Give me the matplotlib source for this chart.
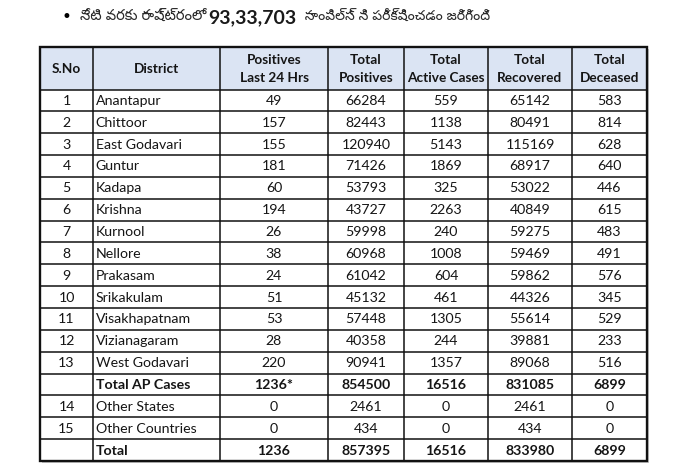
import matplotlib
matplotlib.use("Agg")
import matplotlib.pyplot as plt
from matplotlib.patches import Rectangle
from matplotlib import font_manager

# ---- data ----
headers = ["S.No", "District", "Positives\nLast 24 Hrs", "Total\nPositives",
           "Total\nActive Cases", "Total\nRecovered", "Total\nDeceased"]
sno = ["1", "2", "3", "4", "5", "6", "7", "8", "9", "10", "11", "12", "13", "", "14", "15", ""]
districts = ["Anantapur", "Chittoor", "East Godavari", "Guntur", "Kadapa", "Krishna",
             "Kurnool", "Nellore", "Prakasam", "Srikakulam", "Visakhapatnam",
             "Vizianagaram", "West Godavari", "Total AP Cases", "Other States",
             "Other Countries", "Total"]
pos24 = ["49", "157", "155", "181", "60", "194", "26", "38", "24", "51", "53", "28",
         "220", "1236*", "0", "0", "1236"]
total_pos = [66284, 82443, 120940, 71426, 53793, 43727, 59998, 60968, 61042, 45132,
             57448, 40358, 90941, 854500, 2461, 434, 857395]
active = [559, 1138, 5143, 1869, 325, 2263, 240, 1008, 604, 461, 1305, 244, 1357,
          16516, 0, 0, 16516]
recovered = [65142, 80491, 115169, 68917, 53022, 40849, 59275, 59469, 59862, 44326,
             55614, 39881, 89068, 831085, 2461, 434, 833980]
deceased = [583, 814, 628, 640, 446, 615, 483, 491, 576, 345, 529, 233, 516, 6899,
            0, 0, 6899]
bold_rows = ["Total AP Cases", "Total"]
title_pre = "నేటి వరకు రాష్ట్రంలో "
title_num = "93,33,703"
title_post = "  సాంపిల్స్ ని పరీక్షించడం జరిగింది"

# ---- fonts ----
avail = {f.name for f in font_manager.fontManager.ttflist}
telugu_fams = [f for f in ["Noto Sans Telugu", "Lohit Telugu", "Gautami", "Pothana2000"] if f in avail]
body_font = "Lato" if "Lato" in avail else "DejaVu Sans"

W, H = 680, 467
fig = plt.figure(figsize=(W / 100, H / 100), dpi=100)
ax = fig.add_axes([0, 0, 1, 1])
ax.set_xlim(0, W)
ax.set_ylim(H, 0)
ax.axis("off")

# ---- layout ----
col_edges = [40, 93, 220, 328, 404, 488, 572, 647]
top, head_bot, bottom = 47, 89.5, 461
nrows = len(districts)
row_h = (bottom - head_bot) / nrows
txt_col = "#151515"
fs = 10.2
hfs = 9.8

# shadow + backgrounds
ax.add_patch(Rectangle((col_edges[0] + 2, top + 2), col_edges[-1] - col_edges[0], bottom - top,
                       facecolor="#c8c8c8", edgecolor="none", zorder=0))
ax.add_patch(Rectangle((col_edges[0], top), col_edges[-1] - col_edges[0], head_bot - top,
                       facecolor="#dbe4f3", edgecolor="none", zorder=1))
ax.add_patch(Rectangle((col_edges[0], head_bot), col_edges[-1] - col_edges[0], bottom - head_bot,
                       facecolor="white", edgecolor="none", zorder=1))

# grid lines
for x in col_edges[1:-1]:
    ax.plot([x, x], [top, bottom], color="#111111", lw=1.1, zorder=3)
ys = [head_bot + i * row_h for i in range(nrows)]
for y in ys:
    ax.plot([col_edges[0], col_edges[-1]], [y, y], color="#111111", lw=1.1, zorder=3)
ax.add_patch(Rectangle((col_edges[0], top), col_edges[-1] - col_edges[0], bottom - top,
                       facecolor="none", edgecolor="#111111", lw=1.7, zorder=4))

# header text
for i, h in enumerate(headers):
    cx = (col_edges[i] + col_edges[i + 1]) / 2
    ax.text(cx, (top + head_bot) / 2 + 0.5, h, ha="center", va="center", fontsize=hfs,
            fontweight="bold", color=txt_col, family=body_font, linespacing=1.6, zorder=5)

# body
cols = [sno, districts, pos24, total_pos, active, recovered, deceased]
for r in range(nrows):
    cy = head_bot + (r + 0.5) * row_h + 0.5
    wt = "bold" if districts[r] in bold_rows else "normal"
    for c, col in enumerate(cols):
        val = str(col[r])
        if c == 1:
            ax.text(col_edges[1] + 2.5, cy, val, ha="left", va="center", fontsize=fs,
                    fontweight=wt, color=txt_col, family=body_font, zorder=5)
        else:
            cx = (col_edges[c] + col_edges[c + 1]) / 2
            ax.text(cx, cy, val, ha="center", va="center", fontsize=fs,
                    fontweight=wt if c != 0 else "normal", color=txt_col,
                    family=body_font, zorder=5)

# title line
tfam = telugu_fams + ["Noto Sans", "DejaVu Sans"]
ty = 17
ax.text(66, ty, "\u2022", ha="center", va="center", fontsize=12, color="black", family="DejaVu Sans")
t1 = ax.text(80, ty, title_pre, ha="left", va="center", fontsize=10.5, color="#2a2a2a", family=tfam)
fig.canvas.draw()
bb = t1.get_window_extent()
t2 = ax.text(bb.x1 + 2, H - ty - 1, title_num, ha="left", va="center", fontsize=14, fontweight="bold",
             color="#1a1a1a", family=body_font, transform=None)
fig.canvas.draw()
bb2 = t2.get_window_extent()
t3 = ax.text(bb2.x1, H - ty, title_post, ha="left", va="center", fontsize=10,
             color="#2a2a2a", family=tfam, transform=None)

fig.savefig("out.png", dpi=100)
